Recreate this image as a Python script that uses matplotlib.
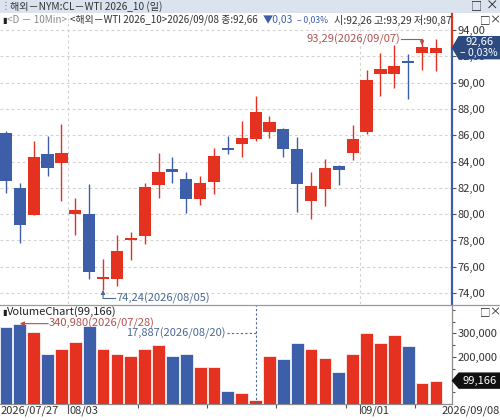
import matplotlib
matplotlib.use("Agg")
import matplotlib.pyplot as plt
import matplotlib.transforms as mtransforms
from matplotlib.patches import Polygon, Rectangle
from matplotlib.lines import Line2D
import numpy as np
import pandas as pd

plt.rcParams['font.family'] = ['Noto Sans CJK KR', 'DejaVu Sans']

# ---------------- data ----------------
dates = ["2026/07/27", "2026/07/28", "2026/07/29", "2026/07/30", "2026/07/31",
         "2026/08/03", "2026/08/04", "2026/08/05", "2026/08/06", "2026/08/07",
         "2026/08/10", "2026/08/11", "2026/08/12", "2026/08/13", "2026/08/14",
         "2026/08/17", "2026/08/18", "2026/08/19", "2026/08/20", "2026/08/21",
         "2026/08/24", "2026/08/25", "2026/08/26", "2026/08/27", "2026/08/28",
         "2026/08/31", "2026/09/01", "2026/09/02", "2026/09/03", "2026/09/04",
         "2026/09/07", "2026/09/08"]
opens = [86.15, 81.97, 79.94, 84.60, 83.87, 80.00, 80.02, 75.10, 75.07, 78.08,
         78.34, 82.22, 83.41, 82.65, 81.15, 82.47, 84.97, 85.34, 85.72, 86.23,
         86.48, 84.98, 81.03, 81.92, 83.67, 84.63, 86.23, 90.64, 90.68, 91.65,
         92.24, 92.26]
highs = [86.30, 82.40, 85.57, 85.97, 86.86, 81.26, 82.27, 76.59, 78.42, 78.67,
         82.35, 84.63, 84.35, 83.23, 82.90, 85.01, 85.95, 87.11, 89.01, 87.47,
         86.53, 85.85, 83.23, 84.20, 83.74, 86.78, 90.97, 92.28, 92.90, 92.20,
         93.29, 93.29]
lows = [81.60, 77.80, 79.90, 82.93, 81.03, 78.42, 75.07, 74.24, 74.56, 76.52,
        77.73, 81.21, 82.40, 80.07, 80.70, 81.51, 84.58, 84.33, 85.60, 85.77,
        84.37, 80.19, 79.64, 80.65, 82.22, 84.12, 86.10, 88.99, 89.57, 88.74,
        90.97, 90.87]
closes = [82.52, 79.16, 84.37, 83.54, 84.68, 80.30, 75.63, 75.15, 77.20, 78.14,
          82.07, 83.19, 83.21, 81.15, 82.35, 84.45, 84.92, 85.82, 87.80, 87.03,
          84.96, 82.30, 82.15, 83.49, 83.36, 85.74, 90.20, 91.02, 91.27, 91.50,
          92.69, 92.66]
volumes = [328000, 340980, 304000, 211000, 232000, 265000, 329000, 232000, 211000, 204000,
           232000, 250000, 204000, 214000, 159000, 155000, 54000, 48000, 17887, 204000,
           190000, 260000, 232000, 197000, 136000, 211000, 300000, 257000, 292000, 246000,
           89000, 99166]
price_ticks = [74, 76, 78, 80, 82, 84, 86, 88, 90, 92, 94]
volume_ticks = [200000, 300000]
header_title = "해외－NYM:CL－WTI 2026_10 (일)"
series_tag = "<D － 10Min>"
symbol_tag = "<해외－WTI 2026_10>"
volume_title = "VolumeChart"

# ---------------- styling ----------------
W, H = 500, 420
RED = '#e5311f'
BLUE = '#3d5ea8'
RED_TXT = '#b4524f'
BLUE_TXT = '#4b6896'
GRID = '#d2d2d2'
AXC = '#8c8c8c'


def fx(px):
    return px / W


def fy(py):
    return 1 - py / H


def comma2(v):
    return f"{v:.2f}".replace('.', ',')


fig = plt.figure(figsize=(W / 100, H / 100), dpi=100)
fig.patch.set_facecolor('white')
renderer = fig.canvas.get_renderer()


def fit_text(xp, yp, s, width_px, size=8, **kw):
    t = fig.text(fx(xp), fy(yp), s, fontsize=size, va='center', ha='left', **kw)
    w = t.get_window_extent(renderer).width
    if w > 0:
        t.set_fontsize(size * min(1.2, max(0.75, width_px / w)))
    return t


n = len(dates)
idx = np.arange(n)
o = np.array(opens); h = np.array(highs); l = np.array(lows); c = np.array(closes)
cols = [RED if cc >= oo else BLUE for oo, cc in zip(o, c)]
dts = pd.to_datetime(dates, format="%Y/%m/%d")

XL = (-0.43, n - 1 + 1.16)

# ---------------- price axes ----------------
ax = fig.add_axes([0, fy(304), fx(452), (304 - 14) / H])
ax.set_xlim(*XL)
ax.set_ylim(73.17, 95.22)
for s in ax.spines.values():
    s.set_visible(False)
ax.set_xticks([])

for t in price_ticks:
    ax.axhline(t, color=GRID, lw=0.8, ls=(0, (2.5, 2.5)), zorder=0)
month_starts = [i for i in range(1, n) if dts[i].month != dts[i - 1].month]
for i in month_starts:
    ax.axvline(i - 0.5, color=GRID, lw=0.8, ls=(0, (2.5, 2.5)), zorder=0)

ax.vlines(idx, l, h, colors=cols, lw=1.0, zorder=2)
mind = 0.16
body_h = np.abs(c - o)
bottoms = np.where(body_h < mind, (o + c) / 2 - mind / 2, np.minimum(o, c))
heights = np.maximum(body_h, mind)
ax.bar(idx, heights, 0.88, bottom=bottoms, color=cols, zorder=3, linewidth=0)

ax.yaxis.tick_right()
ax.set_yticks(price_ticks)
ax.set_yticklabels([comma2(t) for t in price_ticks])
ax.tick_params(axis='y', length=3, width=0.8, color='#555555', labelsize=8,
               pad=1, labelcolor='#333333')

# right axis line: red above current price, blue below
bt = mtransforms.blended_transform_factory(ax.transAxes, ax.transData)
ylo, yhi = ax.get_ylim()
ax.plot([1, 1], [closes[-1], yhi], transform=bt, color=RED, lw=1.6, clip_on=False, zorder=5)
ax.plot([1, 1], [ylo, closes[-1]], transform=bt, color=BLUE, lw=1.6, clip_on=False, zorder=5)

# min annotation
imin = int(np.argmin(l))
lv = l[imin]
ylev = lv - 0.65
ax.annotate('', xy=(imin, lv), xytext=(imin, ylev),
            arrowprops=dict(arrowstyle='-|>', color=BLUE_TXT, lw=0.8,
                            mutation_scale=6, shrinkA=0, shrinkB=0))
ax.plot([imin, imin + 0.85], [ylev, ylev], color=BLUE_TXT, lw=0.8)
ax.text(imin + 0.95, ylev, f"{comma2(lv)}({dates[imin]})", color=BLUE_TXT,
        fontsize=8, va='center', ha='left')

# max annotation
imax = int(np.argmax(h))
hv = h[imax]
ax.text(imax - 1.6, hv, f"{comma2(hv)}({dates[imax]})", color=RED_TXT,
        fontsize=8, va='center', ha='right')
ax.plot([imax - 1.5, imax], [hv, hv], color=RED_TXT, lw=0.8)
ax.annotate('', xy=(imax, hv - 0.45), xytext=(imax, hv),
            arrowprops=dict(arrowstyle='-|>', color=RED_TXT, lw=0.8,
                            mutation_scale=6, shrinkA=0, shrinkB=0))

# ---------------- volume axes ----------------
axv = fig.add_axes([0, fy(404), fx(452), (404 - 305) / H])
axv.set_xlim(*XL)
axv.set_ylim(0, 420000)
for k in ['top', 'left']:
    axv.spines[k].set_visible(False)
for k in ['bottom', 'right']:
    axv.spines[k].set_color(AXC)
    axv.spines[k].set_linewidth(0.9)
axv.bar(idx, volumes, 0.92, color=cols, edgecolor='white', linewidth=0.5, zorder=3)

axv.yaxis.tick_right()
axv.set_yticks(volume_ticks)
axv.set_yticklabels([f"{v:,}" for v in volume_ticks])
axv.set_yticks(np.arange(50000, 400001, 50000), minor=True)
axv.tick_params(axis='y', which='major', length=3, width=0.8, color='#555555',
                labelsize=8, pad=1, labelcolor='#333333')
axv.tick_params(axis='y', which='minor', length=2, width=0.8, color='#555555')

mondays = [i for i in range(1, n) if (dts[i] - dts[i - 1]).days > 1]
axv.set_xticks([i - 0.5 for i in mondays])
axv.set_xticklabels([])
axv.tick_params(axis='x', length=3, width=0.8, color='#555555')
for i in month_starts:
    axv.plot([i - 0.5, i - 0.5], [0, -0.09], transform=mtransforms.blended_transform_factory(
        axv.transData, axv.transAxes), color='#555555', lw=0.8, clip_on=False)

# date labels
fig.text(fx(1), fy(411), dates[0], fontsize=8, color='#333333', ha='left', va='center')
for i in month_starts:
    xpix = axv.transData.transform((i - 0.5, 0))[0]
    fig.text(xpix / W + fx(1), fy(411), dates[i][5:], fontsize=8, color='#333333',
             ha='left', va='center')
fig.text(fx(500), fy(411), dates[-1], fontsize=8, color='#333333', ha='right', va='center')

# volume max annotation
imv = int(np.argmax(volumes))
axv.annotate('', xy=(imv, volumes[imv]), xytext=(imv + 2.05, volumes[imv]),
             arrowprops=dict(arrowstyle='-|>', color=RED_TXT, lw=0.8,
                             mutation_scale=6, shrinkA=0, shrinkB=0))
axv.text(imv + 2.1, volumes[imv], f"{volumes[imv]:,}({dates[imv]})", color=RED_TXT,
         fontsize=8, va='center', ha='left')

# volume min annotation
inv = int(np.argmin(volumes))
bt2 = mtransforms.blended_transform_factory(axv.transData, axv.transAxes)
axv.text(inv - 2.15, 0.717, f"{volumes[inv]:,}({dates[inv]})", color=BLUE_TXT,
         fontsize=8, va='center', ha='right', transform=bt2)
axv.plot([inv - 2.05, inv], [0.717, 0.717], transform=bt2, color=BLUE_TXT, lw=0.8,
         ls=(0, (2, 2)))
axv.plot([inv, inv], [0, 1], transform=bt2, color=BLUE_TXT, lw=0.8, ls=(0, (2, 2)),
         zorder=4)

# ---------------- frame / header ----------------
fig.add_artist(Rectangle((0, fy(13)), 1, 13 / H, transform=fig.transFigure,
                         facecolor='#dbe4ee', edgecolor='none', zorder=0))
fig.add_artist(Line2D([0, 1], [fy(304.5), fy(304.5)], color='#9a9a9a', lw=0.9))
fig.text(fx(1), fy(6.5), "⋮", fontsize=7, color='#7a7a7a', va='center', ha='left')
fit_text(10, 6.5, header_title, 153, size=8.5, color='#333333')
fig.text(fx(476), fy(6.5), "□", fontsize=8, color='#222222', va='center', ha='center')
fig.text(fx(492), fy(6.5), "×", fontsize=9, color='#222222', va='center', ha='center')

chg = closes[-1] - closes[-2]
pct = chg / closes[-2] * 100
arrow = "▼" if chg < 0 else "▲"
sign = "–" if chg < 0 else "+"
fig.text(fx(2), fy(20), "▮", fontsize=6, color='#222222', va='center', ha='left',
         family='DejaVu Sans')
fit_text(7, 20, series_tag, 60, color='#8a8a8a')
fit_text(70, 20, f"{symbol_tag}{dates[-1]} 종:{comma2(closes[-1])}", 188, color='#333333')
fit_text(263, 20, f"{arrow}{comma2(abs(chg))}", 30, color=BLUE)
fit_text(297, 20, f"{sign} {comma2(abs(pct))}%", 31, color=BLUE)
fit_text(334, 20, f"시:{comma2(opens[-1])} 고:{comma2(highs[-1])} 저:{comma2(lows[-1])}",
         118, color='#333333')
for yy in (20, 312):
    fig.text(fx(485), fy(yy), "□", fontsize=7.5, color='#222222', va='center', ha='center')
    fig.text(fx(495), fy(yy), "×", fontsize=8, color='#222222', va='center', ha='center')

fig.text(fx(2), fy(312), "▮", fontsize=6, color='#222222', va='center', ha='left',
         family='DejaVu Sans')
fig.text(fx(7), fy(312), f"{volume_title}({volumes[-1]:,})", fontsize=8,
         color='#222222', va='center', ha='left')

# current price box
yc = ax.transData.transform((0, closes[-1]))[1] / H
pts = [(fx(452.5), yc), (fx(459), yc + 11 / H), (fx(500), yc + 11 / H),
       (fx(500), yc - 11 / H), (fx(459), yc - 11 / H)]
fig.add_artist(Polygon(pts, closed=True, transform=fig.transFigure,
                       facecolor='#2b4a80', edgecolor='#2b4a80', zorder=6))
fig.text(fx(480), yc + 5.5 / H, comma2(closes[-1]), color='white', fontsize=8,
         ha='center', va='center', zorder=7)
fig.text(fx(479), yc - 5.5 / H, f"{sign} {comma2(abs(pct))}%", color='white', fontsize=7.5,
         ha='center', va='center', zorder=7)

# current volume box
yvp = axv.transData.transform((0, volumes[-1]))[1] / H
pts = [(fx(452.5), yvp), (fx(459), yvp + 7.5 / H), (fx(500), yvp + 7.5 / H),
       (fx(500), yvp - 7.5 / H), (fx(459), yvp - 7.5 / H)]
fig.add_artist(Polygon(pts, closed=True, transform=fig.transFigure,
                       facecolor='#111111', edgecolor='#111111', zorder=6))
fig.text(fx(480), yvp, f"{volumes[-1]:,}", color='white', fontsize=8,
         ha='center', va='center', zorder=7)

fig.savefig("out.png", dpi=100, facecolor='white')
